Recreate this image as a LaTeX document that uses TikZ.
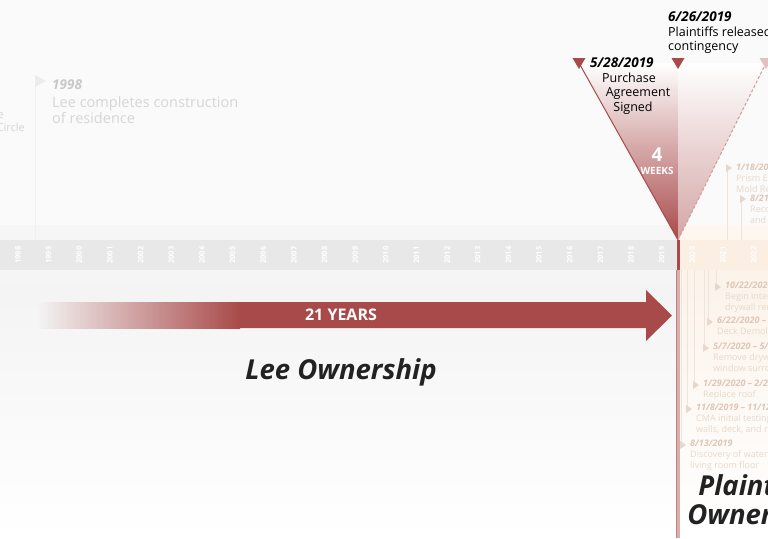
\documentclass[tikz,border=0pt]{standalone}
\usepackage{fontspec}
\setmainfont{Open Sans}
\usetikzlibrary{positioning}
\definecolor{ownred}{RGB}{169,74,74}
\definecolor{bandgray}{RGB}{232,232,232}
\definecolor{peach}{RGB}{251,238,226}
\definecolor{cream}{RGB}{252,243,234}
\definecolor{fadegray}{RGB}{214,214,214}
\definecolor{fadedate}{RGB}{200,200,200}
\definecolor{fadetan}{RGB}{232,216,203}
\definecolor{tandate}{RGB}{220,199,184}
\definecolor{inkdark}{RGB}{34,34,34}

\begin{document}
\begin{tikzpicture}[x=1pt,y=-1pt,
    bigdate/.style={font=\fontsize{13.5}{15}\selectfont\bfseries\itshape,inner sep=0,anchor=base west},
    bigtext/.style={font=\fontsize{12.5}{14.5}\selectfont,inner sep=0,anchor=north west,align=left},
    event/.style={font=\fontsize{9}{11}\selectfont,text=fadetan,inner sep=0,anchor=north west,align=left},
    owner/.style={font=\fontsize{27.5}{25}\selectfont\bfseries\itshape,text=inkdark,inner sep=0,align=center}]
    \useasboundingbox (0,0) rectangle (768,538);

    % background and time band
    \fill[gray!4] (0,0) rectangle (768,225);
    \fill[gray!7] (0,225) rectangle (768,240);
    \fill[peach!50] (680,225) rectangle (768,240);
    \fill[bandgray] (0,240) rectangle (680,270);
    \fill[peach] (680,240) rectangle (768,270);
    \fill[gray!8] (0,270) rectangle (680,285);
    \shade[top color=gray!9,bottom color=white] (0,285) rectangle (680,538);
    \shade[top color=cream,bottom color=white] (680,270) rectangle (768,538);

    \foreach \yr [count=\i from 0] in {1998,...,2022}
        \node[rotate=90,text=white,font=\fontsize{7.5}{8}\selectfont\bfseries,inner sep=0] (y\yr) at (18+30.65*\i,255) {\yr};

    % 1998
    \node[font=\fontsize{11}{13}\selectfont,text=fadegray,inner sep=0,anchor=base east] (prevA) at (4,118) {e};
    \node[font=\fontsize{11}{13}\selectfont,text=fadegray,inner sep=0,anchor=base east] (prevB) at (25,131) {Circle};
    \coordinate (flag) at (35,75);
    \coordinate (flagfoot) at (35,240);
    \draw[gray!12,line width=1pt] (flag) -- (flagfoot);
    \fill[gray!15] (flag) -- (46,81) -- (35,87) -- cycle;
    \node[bigdate,text=fadedate] (d1998) at (52,89) {1998};
    \node[bigtext,text=fadegray,font=\fontsize{14.5}{16}\selectfont] (t1998) at (52,96) {Lee completes construction\\of residence};

    % contingency window
    \coordinate (apex) at (678,240);
    \coordinate (sign) at (579,63);
    \coordinate (release) at (678,63);
    \coordinate (next) at (766,63);
    \shade[top color=white,middle color=ownred!25,bottom color=ownred] (sign) -- (release) -- (apex) -- cycle;
    \shade[top color=white,middle color=ownred!10,bottom color=ownred!50] (release) -- (next) -- (apex) -- cycle;
    \draw[ownred,line width=1pt] (sign) -- (apex);
    \draw[ownred!55,line width=1pt,dash pattern=on 3pt off 2pt] (apex) -- (next);
    \fill[ownred] (572.5,58) -- (585.5,58) -- (579,69) -- cycle;
    \fill[ownred] (671.5,58) -- (684.5,58) -- (678,69) -- cycle;
    \fill[ownred!35] (759.5,58) -- (772.5,58) -- (766,69) -- cycle;

    \node[bigdate] (d0528) at (590,67) {5/28/2019};
    \node[bigtext,align=center,anchor=north] (t0528) at (629,72.5) {Purchase\\\hspace*{18pt}Agreement\\\hspace*{8pt}Signed};
    \node[bigdate] (d0626) at (668,21) {6/26/2019};
    \node[bigtext] (t0626) at (668,26.5) {Plaintiffs released\\contingency};

    \node[text=white,font=\fontsize{19}{20}\selectfont\bfseries,inner sep=0] (four) at (657,155) {4};
    \node[text=white,font=\fontsize{10}{11}\selectfont\bfseries,inner sep=0] (weeks) at (657,171) {WEEKS};

    \coordinate (mid) at (678,270);
    \coordinate (foot) at (678,538);
    \draw[ownred,line width=3pt] (apex) -- (mid);
    \draw[ownred!45,line width=4pt] (mid) -- (foot);
    \draw[ownred!70,line width=0.7pt] (676.3,270) -- (676.3,538);

    % plaintiff events
    \foreach \x/\y/\txt in {
        736/164/{{\color{tandate}\bfseries\itshape 1/18/2020}\\Prism EHS\\Mold Report},
        750/195/{{\color{tandate}\bfseries\itshape 8/21/2020}\\Recommendation\\and cleanup}} {
        \draw[fadetan!70,line width=1pt] (\x-9,\y+1) -- (\x-9,240);
        \fill[fadetan] (\x-10,\y) -- (\x-4,\y+4) -- (\x-10,\y+8) -- cycle;
        \node[event] at (\x,\y) {\txt};
    }
    \foreach \x/\y/\txt in {
        725/282/{{\color{tandate}\bfseries\itshape 10/22/2020}\\Begin interior\\drywall removal},
        717/317/{{\color{tandate}\bfseries\itshape 6/22/2020 -- 7/1/2020}\\Deck Demolition},
        713/343/{{\color{tandate}\bfseries\itshape 5/7/2020 -- 5/15/2020}\\Remove drywall around\\window surround},
        703/380/{{\color{tandate}\bfseries\itshape 1/29/2020 -- 2/25/2020}\\Replace roof},
        696/404/{{\color{tandate}\bfseries\itshape 11/8/2019 -- 11/12/2019}\\CMA initial testing of\\walls, deck, and roof},
        690/440/{{\color{tandate}\bfseries\itshape 8/13/2019}\\Discovery of water in\\living room floor}} {
        \draw[fadetan!70,line width=1pt] (\x-9,270) -- (\x-9,\y+8);
        \fill[fadetan] (\x-10,\y+1) -- (\x-4,\y+5) -- (\x-10,\y+9) -- cycle;
        \node[event] at (\x,\y) {\txt};
    }

    % ownership arrow
    \coordinate (tail) at (38,302);
    \shade[left color=gray!9,right color=ownred] (tail) rectangle (240,328);
    \fill[ownred] (240,302) -- (646,302) -- (646,290) -- (672,315.5) -- (646,341) -- (646,328) -- (240,328) -- cycle;
    \node[text=white,font=\fontsize{16}{18}\selectfont\bfseries,inner sep=0] (years) at (341,315) {21 YEARS};
    \node[owner] (lee) at (341,372) {Lee Ownership};
    \node[owner] (plaintiffs) at (757,503) {Plaintiffs\\Ownership};
\end{tikzpicture}
\end{document}
